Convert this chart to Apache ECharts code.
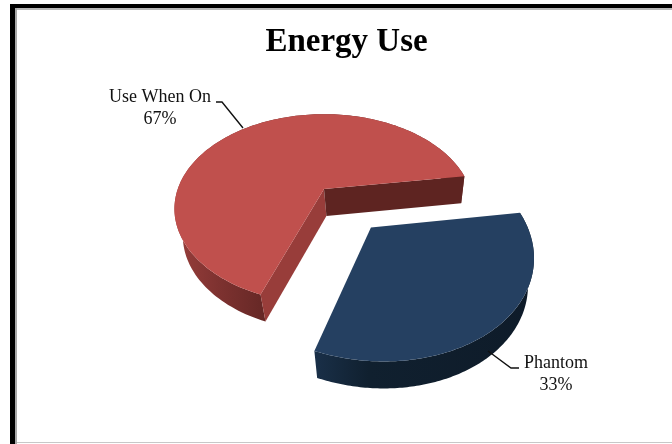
<!DOCTYPE html>
<html><head><meta charset="utf-8">
<style>html,body{margin:0;padding:0;background:#fff}#c{width:672px;height:444px;filter:blur(0.45px)}</style>
<script src="https://cdn.jsdelivr.net/npm/echarts@6/dist/echarts.min.js"></script>
</head><body><div id="c"></div>
<script>
const titleText = 'Energy Use';
const categories = ['Use When On', 'Phantom'];
const values = [67, 33];

const total = values.reduce((a, b) => a + b, 0);
const startDeg = 110.4;
const base = {x0: 324, y0: 189, A: 146.7, B: 90.8};
const looks = [
  {k: 0.21, radius: 0.997, explode: 0, explodeTurn: 0, cuts: true,
   top: '#c0504d', cutA: '#983d3a', cutB: '#5e2421',
   side: [[0, '#9a3f3c'], [0.5, '#7e3230'], [1, '#662826']], range: [172, 264]},
  {k: 0.20, radius: 0.985, explode: 0.49, explodeTurn: 2, cuts: false,
   top: '#254061', side: [[0, '#1a3049'], [0.25, '#10202f'], [1, '#0e1b29']], range: [313, 535]}
];
const depth = 27, shrink = 0.96, lowerShift = 2.4;
const labelPos = [[160, 108], [556, 374]];
const leaders = [[[243, 128], [222, 102], [216, 102]], [[488, 351], [511, 368], [519, 368]]];

function project(u, v, k) {
  const d = 1 - k * v;
  return [base.x0 + base.A * u / d, base.y0 + base.B * v / d];
}
function lower(p) {
  return [base.x0 + (p[0] - base.x0) * shrink + lowerShift, p[1] + depth];
}
function sliceAngles(i) {
  let s = startDeg;
  for (let j = 0; j < i; j++) s += values[j] / total * 360;
  return [s, s + values[i] / total * 360];
}
function renderItem(params, api) {
  const i = params.dataIndex;
  const val = api.value(0);
  const look = looks[i];
  const [a0, a1] = sliceAngles(i);
  const mid = ((a0 + a1) / 2 + look.explodeTurn) * Math.PI / 180;
  const ox = Math.cos(mid) * look.explode, oy = Math.sin(mid) * look.explode;
  const pt = deg => project(ox + look.radius * Math.cos(deg * Math.PI / 180), oy + look.radius * Math.sin(deg * Math.PI / 180), look.k);
  const arc = [];
  const n = 160;
  for (let t = 0; t <= n; t++) arc.push(pt(a0 + (a1 - a0) * t / n));
  const apex = project(ox, oy, look.k);
  const poly = (points, fill) => ({type: 'polygon', shape: {points}, style: {fill}});
  const sideFill = {type: 'linear', x: look.range[0], y: 0, x2: look.range[1], y2: 0, global: true,
    colorStops: look.side.map(c => ({offset: c[0], color: c[1]}))};
  const children = [];
  children.push(poly(arc.concat(arc.map(lower).reverse()), sideFill));
  if (look.cuts) {
    children.push(poly([apex, arc[0], lower(arc[0]), lower(apex)], look.cutA));
    children.push(poly([apex, arc[n], lower(arc[n]), lower(apex)], look.cutB));
  }
  children.push(poly([apex].concat(arc), look.top));
  children.push({type: 'polyline', shape: {points: leaders[i]}, style: {stroke: '#111', lineWidth: 1.4, fill: null}});
  children.push({type: 'text', style: {
    x: labelPos[i][0], y: labelPos[i][1],
    text: categories[i] + '\n' + val + '%',
    fill: '#111', font: '18px "Liberation Serif"', align: 'center', verticalAlign: 'middle', lineHeight: 22
  }});
  return {type: 'group', children};
}
const chart = echarts.init(document.getElementById('c'), null, {renderer: 'canvas'});
chart.setOption({
  animation: false,
  backgroundColor: '#fff',
  title: {text: titleText, left: 341.5, top: 21, textAlign: 'center',
    textStyle: {fontFamily: 'Liberation Serif', fontWeight: 'bold', fontSize: 33, color: '#000'}},
  graphic: [
    {type: 'rect', silent: true, shape: {x: 15, y: 8, width: 657, height: 2}, style: {fill: '#b8b8b8'}},
    {type: 'rect', silent: true, shape: {x: 15, y: 8, width: 2, height: 436}, style: {fill: '#a8a8a8'}},
    {type: 'rect', silent: true, shape: {x: 10, y: 4, width: 662, height: 4}, style: {fill: '#000'}},
    {type: 'rect', silent: true, shape: {x: 10, y: 4, width: 5, height: 440}, style: {fill: '#000'}},
    {type: 'rect', silent: true, shape: {x: 17, y: 442, width: 655, height: 1}, style: {fill: '#c8c8c8'}}
  ],
  series: [{
    type: 'custom', coordinateSystem: 'none', renderItem, clip: false,
    data: categories.map((c, i) => ({name: c, value: [values[i]]}))
  }]
});
</script></body></html>
